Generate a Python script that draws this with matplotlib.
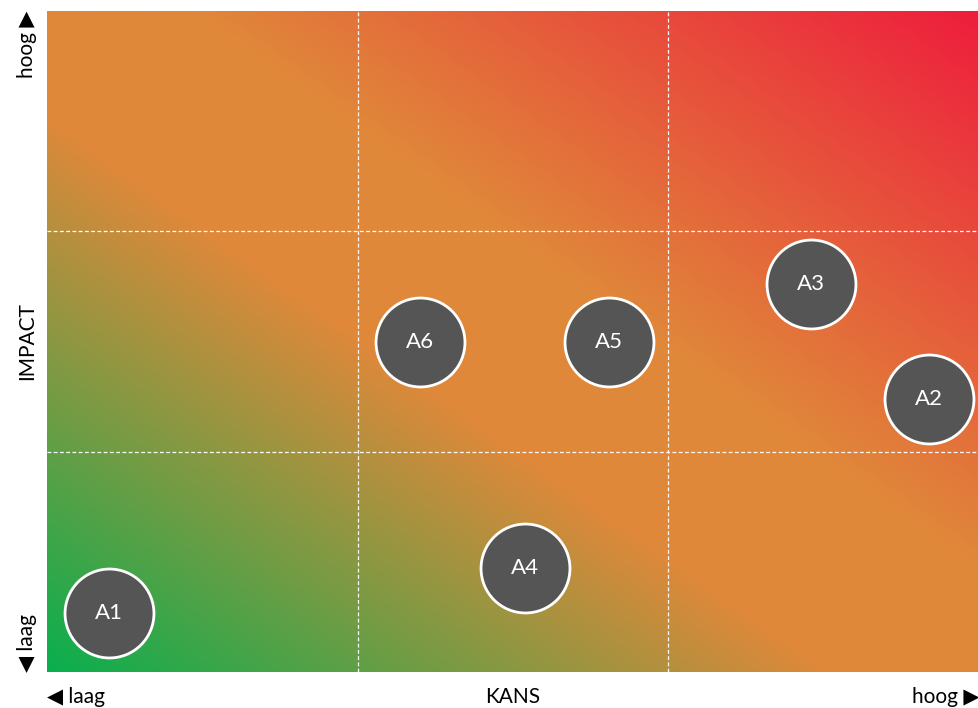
import numpy as np
import matplotlib.pyplot as plt
from matplotlib.colors import LinearSegmentedColormap

plt.rcParams['font.family'] = ['Lato', 'DejaVu Sans']

# risk items: kans (x) and impact (y), both on a 0-3 scale
labels = ['A1', 'A2', 'A3', 'A4', 'A5', 'A6']
kans = [0.20, 2.84, 2.46, 1.54, 1.81, 1.20]
impact = [0.27, 1.24, 1.76, 0.47, 1.50, 1.50]

fig = plt.figure(figsize=(9.79, 7.08), dpi=100)
ax = fig.add_axes([47/979, 36/708, 932/979, 661/708])

# diagonal gradient background: green -> orange -> red
cmap = LinearSegmentedColormap.from_list('risk', [
    (0.0, '#0aaf4e'), (0.42, '#e0883a'), (0.58, '#e0883a'), (1.0, '#ee1e3d')])
u, v = np.meshgrid(np.linspace(0, 1, 400), np.linspace(0, 1, 400))
ax.imshow((u + v) / 2, cmap=cmap, origin='lower', extent=[0, 3, 0, 3],
          aspect='auto', interpolation='bilinear', zorder=0)

for g in [1, 2]:
    ax.axvline(g, color='white', lw=0.9, ls=(0, (3, 2)), zorder=1)
    ax.axhline(g, color='white', lw=0.9, ls=(0, (3, 2)), zorder=1)

ax.scatter(kans, impact, s=4100, c='#555555', edgecolors='white',
           linewidths=2, zorder=3)
for lab, x, y in zip(labels, kans, impact):
    ax.text(x, y, lab, color='white', fontsize=16, ha='center', va='center', zorder=4)

ax.set_xlim(0, 3)
ax.set_ylim(0, 3)
ax.set_xticks([])
ax.set_yticks([])
for s in ax.spines.values():
    s.set_visible(False)

fs = 15
fig.text(47/979, 11/708, '◀ laag', fontsize=fs, ha='left', va='center')
fig.text(513/979, 11/708, 'KANS', fontsize=fs, ha='center', va='center')
fig.text(979/979, 11/708, 'hoog ▶', fontsize=fs, ha='right', va='center')
fig.text(27/979, 1 - 11/708, 'hoog ▶', fontsize=fs, ha='center', va='top', rotation=90)
fig.text(27/979, 1 - 341/708, 'IMPACT', fontsize=fs, ha='center', va='center', rotation=90)
fig.text(27/979, 36/708, '◀ laag', fontsize=fs, ha='center', va='bottom', rotation=90)

fig.savefig('out.png', dpi=100)
